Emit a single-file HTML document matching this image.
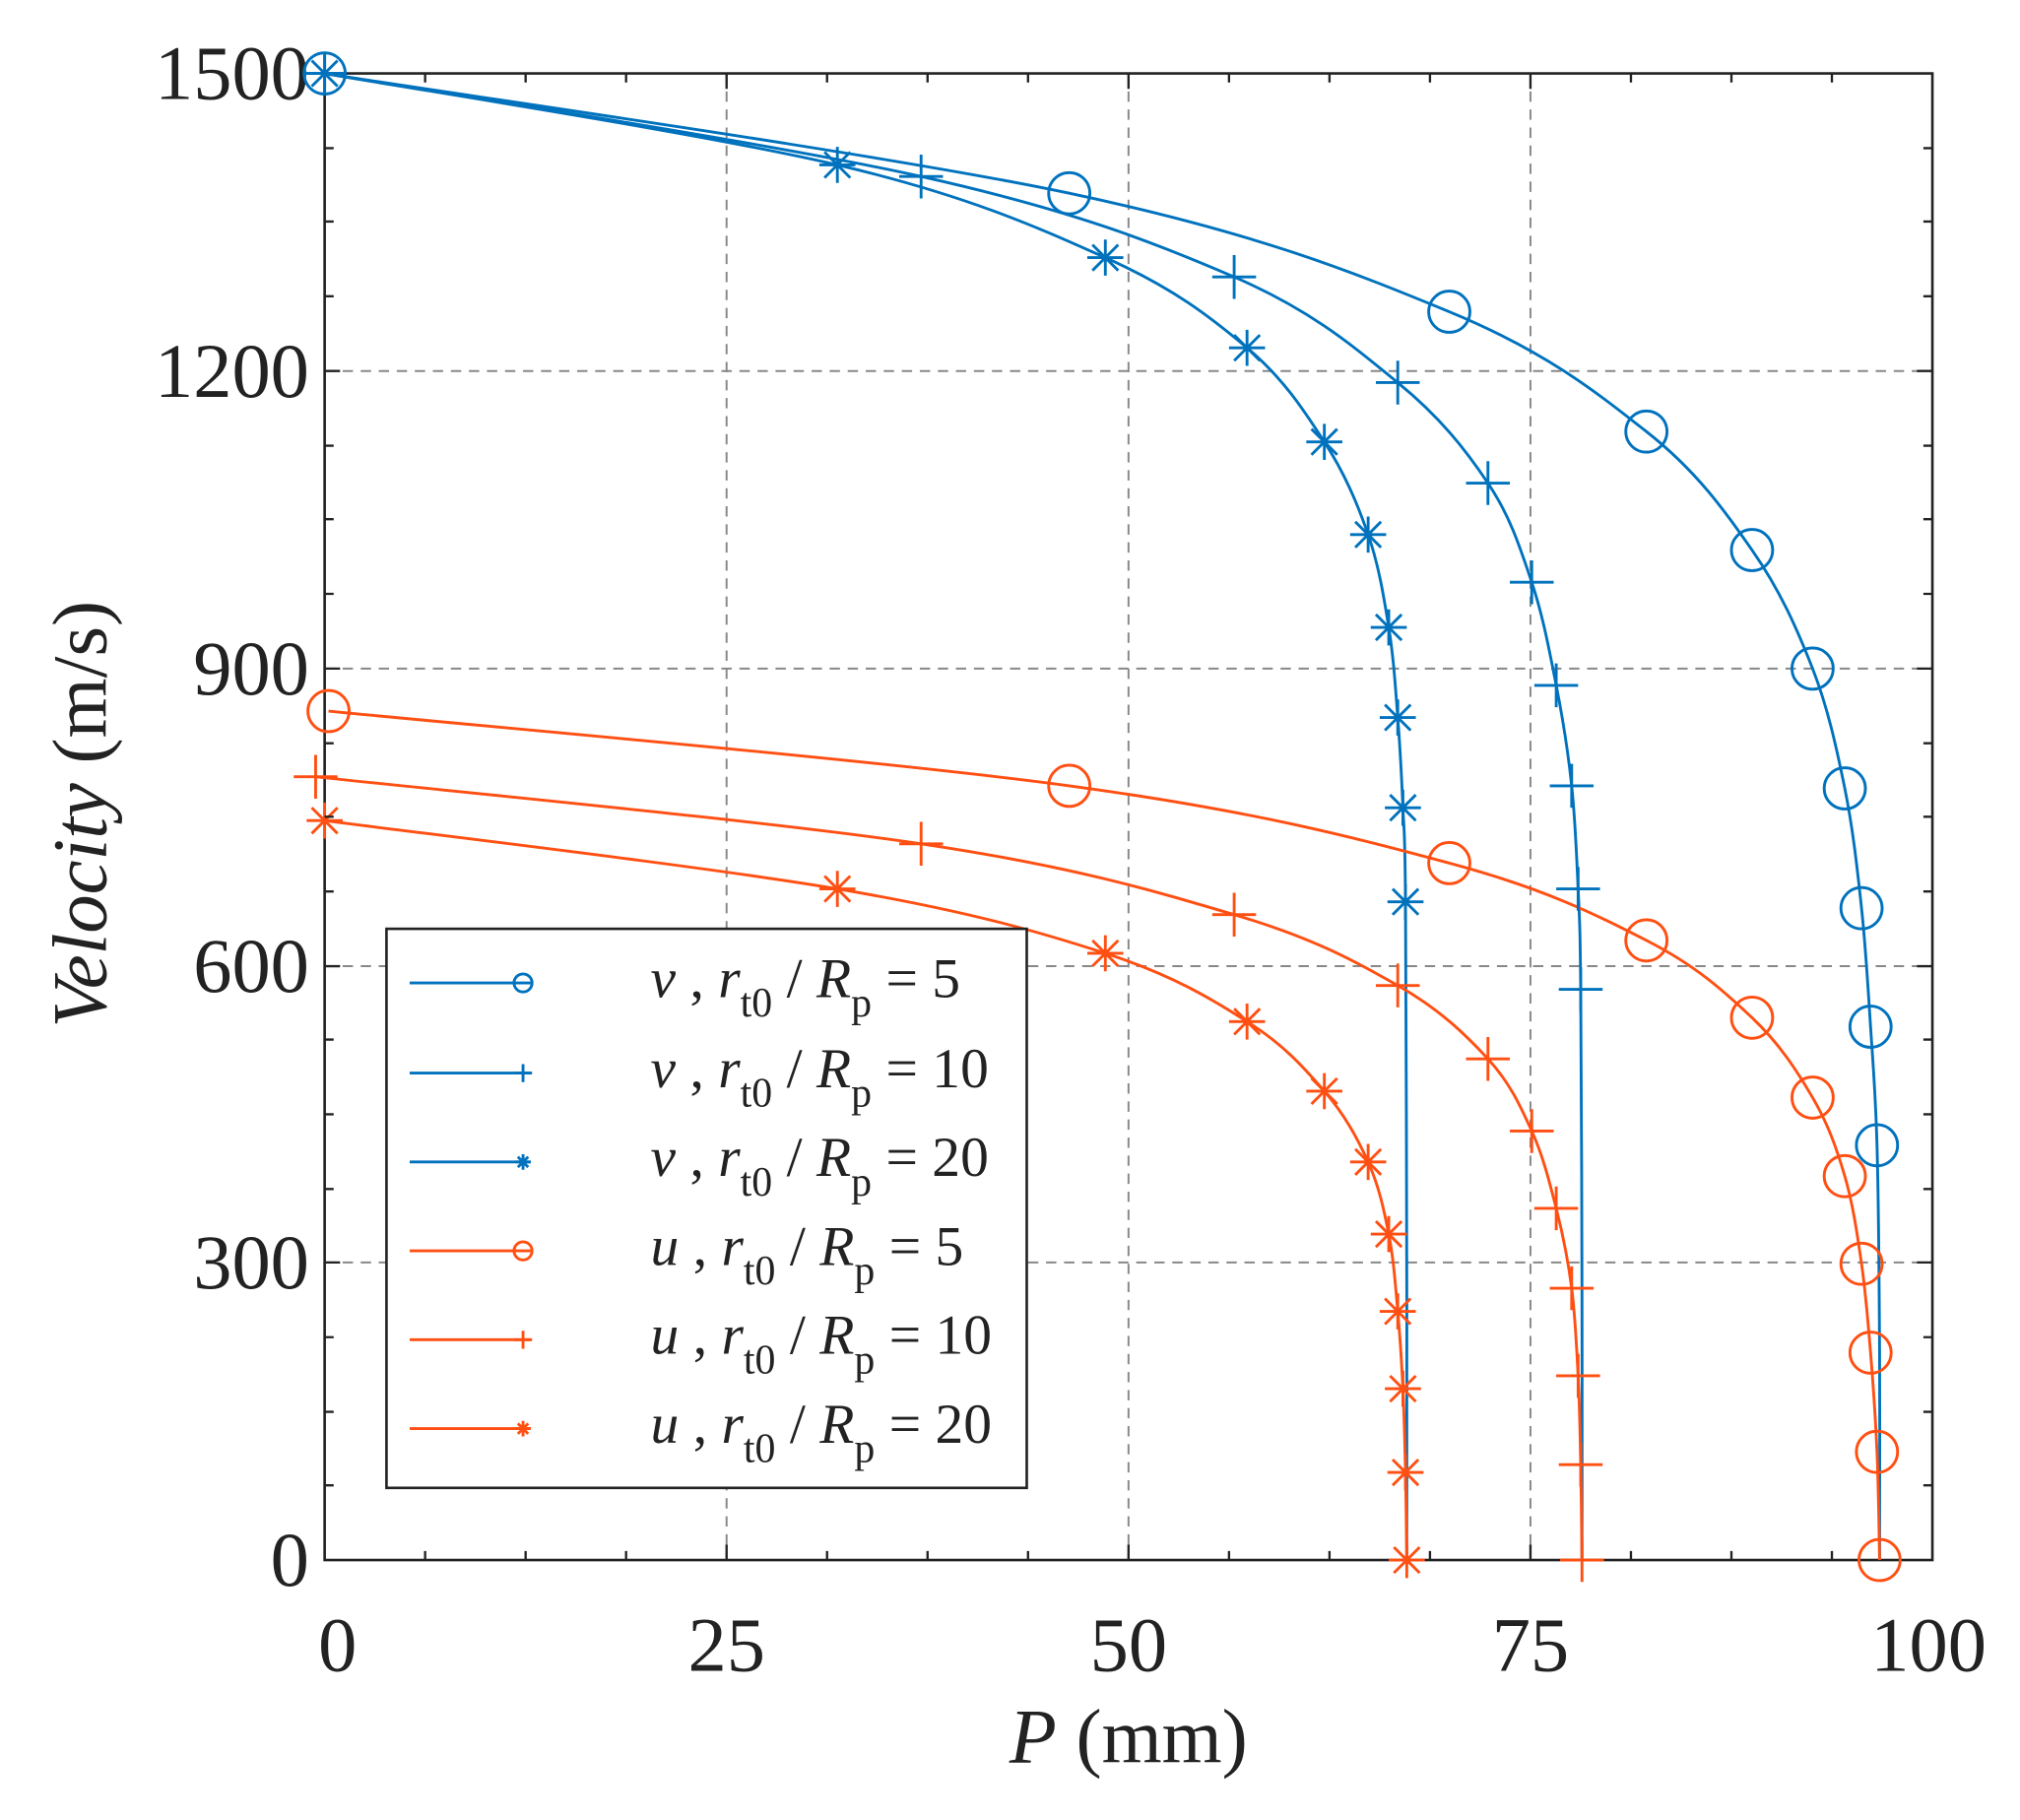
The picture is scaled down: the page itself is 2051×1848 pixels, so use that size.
<!DOCTYPE html>
<html><head><meta charset="utf-8"><style>
html,body{margin:0;padding:0;background:#fff}
svg{display:block}
text{font-family:"Liberation Serif",serif;fill:#222}
</style></head><body>
<svg id="sv" width="2051" height="1848" viewBox="0 0 1568 1412.8" preserveAspectRatio="none" xmlns="http://www.w3.org/2000/svg">
<defs>
<g id="circ"><circle r="16" fill="none" stroke-width="2.2"/></g>
<g id="plus"><path d="M-17,0H17M0,-17V17" stroke-width="2.2"/></g>
<g id="star"><path d="M-14,0H14M0,-14V14M-10,-10L10,10M-10,10L10,-10" stroke-width="2.2"/></g>
</defs>
<g stroke="#888" stroke-width="1.5" stroke-dasharray="8,6">
<line x1="564" y1="57" x2="564" y2="1211"/><line x1="876" y1="57" x2="876" y2="1211"/><line x1="1188" y1="57" x2="1188" y2="1211"/>
<line x1="252" y1="288" x2="1500" y2="288"/><line x1="252" y1="519" x2="1500" y2="519"/><line x1="252" y1="750" x2="1500" y2="750"/><line x1="252" y1="980" x2="1500" y2="980"/>
</g>
<rect x="252" y="57" width="1248" height="1154" fill="none" stroke="#222" stroke-width="2"/>
<g font-size="60" text-anchor="middle">
<text x="262" y="1297">0</text><text x="564" y="1297">25</text><text x="876" y="1297">50</text><text x="1188" y="1297">75</text><text x="1497" y="1297">100</text>
</g>
<g font-size="60" text-anchor="end">
<text x="240" y="77">1500</text><text x="240" y="308">1200</text><text x="240" y="539">900</text><text x="240" y="770">600</text><text x="240" y="1000">300</text><text x="240" y="1231">0</text>
</g>
<text x="876" y="1368" font-size="60" text-anchor="middle"><tspan font-style="italic">P</tspan> (mm)</text>
<text transform="translate(82,632) rotate(-90)" font-size="60" text-anchor="middle"><tspan font-style="italic">Velocity</tspan> (m/s)</text>
<g fill="none" stroke-width="2.2" stroke-linejoin="round">
<polyline class="s" stroke="#0072BD" points="252,57 830,150 1125,242 1278,335 1360,427 1407,519 1432,612 1445,705 1452,797 1457,889 1459,1050 1459,1211"/>
<polyline class="s" stroke="#0072BD" points="252,57 715,137 958,215 1085,297 1155,375 1189,452 1208,532 1220,610 1225,690 1227,768 1228,1000 1228,1211"/>
<polyline class="s" stroke="#0072BD" points="252,57 650,128 858,200 968,270 1028,343 1062,415 1078,487 1085,557 1089,627 1091,700 1092,1000 1092,1211"/>
<polyline class="s" stroke="#FF4F12" points="255,552 830,610 1125,670 1278,730 1360,790 1407,852 1432,913 1445,981 1452,1050 1457,1127 1459,1211"/>
<polyline class="s" stroke="#FF4F12" points="245,603 715,655 958,710 1085,765 1155,822 1189,878 1208,938 1220,1000 1225,1068 1227,1137 1228,1211"/>
<polyline class="s" stroke="#FF4F12" points="252,637 650,690 858,740 968,793 1028,847 1062,902 1078,958 1085,1018 1089,1078 1091,1143 1092,1211"/>
</g>
<g stroke="#0072BD">
<use href="#circ" x="252" y="57"/><use href="#circ" x="830" y="150"/><use href="#circ" x="1125" y="242"/><use href="#circ" x="1278" y="335"/><use href="#circ" x="1360" y="427"/><use href="#circ" x="1407" y="519"/><use href="#circ" x="1432" y="612"/><use href="#circ" x="1445" y="705"/><use href="#circ" x="1452" y="797"/><use href="#circ" x="1457" y="889"/>
<use href="#plus" x="252" y="57"/><use href="#plus" x="715" y="137"/><use href="#plus" x="958" y="215"/><use href="#plus" x="1085" y="297"/><use href="#plus" x="1155" y="375"/><use href="#plus" x="1189" y="452"/><use href="#plus" x="1208" y="532"/><use href="#plus" x="1220" y="610"/><use href="#plus" x="1225" y="690"/><use href="#plus" x="1227" y="768"/>
<use href="#star" x="252" y="57"/><use href="#star" x="650" y="128"/><use href="#star" x="858" y="200"/><use href="#star" x="968" y="270"/><use href="#star" x="1028" y="343"/><use href="#star" x="1062" y="415"/><use href="#star" x="1078" y="487"/><use href="#star" x="1085" y="557"/><use href="#star" x="1089" y="627"/><use href="#star" x="1091" y="700"/>
</g>
<g stroke="#FF4F12">
<use href="#circ" x="255" y="552"/><use href="#circ" x="830" y="610"/><use href="#circ" x="1125" y="670"/><use href="#circ" x="1278" y="730"/><use href="#circ" x="1360" y="790"/><use href="#circ" x="1407" y="852"/><use href="#circ" x="1432" y="913"/><use href="#circ" x="1445" y="981"/><use href="#circ" x="1452" y="1050"/><use href="#circ" x="1457" y="1127"/><use href="#circ" x="1459" y="1211"/>
<use href="#plus" x="245" y="603"/><use href="#plus" x="715" y="655"/><use href="#plus" x="958" y="710"/><use href="#plus" x="1085" y="765"/><use href="#plus" x="1155" y="822"/><use href="#plus" x="1189" y="878"/><use href="#plus" x="1208" y="938"/><use href="#plus" x="1220" y="1000"/><use href="#plus" x="1225" y="1068"/><use href="#plus" x="1227" y="1137"/><use href="#plus" x="1228" y="1211"/>
<use href="#star" x="252" y="637"/><use href="#star" x="650" y="690"/><use href="#star" x="858" y="740"/><use href="#star" x="968" y="793"/><use href="#star" x="1028" y="847"/><use href="#star" x="1062" y="902"/><use href="#star" x="1078" y="958"/><use href="#star" x="1085" y="1018"/><use href="#star" x="1089" y="1078"/><use href="#star" x="1091" y="1143"/><use href="#star" x="1092" y="1211"/>
</g>
<rect x="300" y="721" width="497" height="434" fill="#fff" stroke="#222" stroke-width="2"/>
<g stroke-width="2.2">
<line x1="318" y1="763" x2="412" y2="763" stroke="#0072BD"/><circle cx="406" cy="763" r="7" fill="none" stroke="#0072BD"/>
<line x1="318" y1="833" x2="412" y2="833" stroke="#0072BD"/><path d="M399,833h14M406,826v14" stroke="#0072BD"/>
<line x1="318" y1="902" x2="412" y2="902" stroke="#0072BD"/><path d="M400,902h12M406,896v12M402,898l8,8M402,906l8,-8" stroke="#0072BD"/>
<line x1="318" y1="971" x2="412" y2="971" stroke="#FF4F12"/><circle cx="406" cy="971" r="7" fill="none" stroke="#FF4F12"/>
<line x1="318" y1="1040" x2="412" y2="1040" stroke="#FF4F12"/><path d="M399,1040h14M406,1033v14" stroke="#FF4F12"/>
<line x1="318" y1="1109" x2="412" y2="1109" stroke="#FF4F12"/><path d="M400,1109h12M406,1103v12M402,1105l8,8M402,1113l8,-8" stroke="#FF4F12"/>
</g>
<g font-size="44">
<text x="505" y="774"><tspan font-style="italic">v</tspan> , <tspan font-style="italic">r</tspan><tspan font-size="32" dy="15">t0</tspan><tspan dy="-15"> / </tspan><tspan font-style="italic">R</tspan><tspan font-size="32" dy="15">p</tspan><tspan dy="-15"> = 5</tspan></text>
<text x="505" y="844"><tspan font-style="italic">v</tspan> , <tspan font-style="italic">r</tspan><tspan font-size="32" dy="15">t0</tspan><tspan dy="-15"> / </tspan><tspan font-style="italic">R</tspan><tspan font-size="32" dy="15">p</tspan><tspan dy="-15"> = 10</tspan></text>
<text x="505" y="913"><tspan font-style="italic">v</tspan> , <tspan font-style="italic">r</tspan><tspan font-size="32" dy="15">t0</tspan><tspan dy="-15"> / </tspan><tspan font-style="italic">R</tspan><tspan font-size="32" dy="15">p</tspan><tspan dy="-15"> = 20</tspan></text>
<text x="505" y="982"><tspan font-style="italic">u</tspan> , <tspan font-style="italic">r</tspan><tspan font-size="32" dy="15">t0</tspan><tspan dy="-15"> / </tspan><tspan font-style="italic">R</tspan><tspan font-size="32" dy="15">p</tspan><tspan dy="-15"> = 5</tspan></text>
<text x="505" y="1051"><tspan font-style="italic">u</tspan> , <tspan font-style="italic">r</tspan><tspan font-size="32" dy="15">t0</tspan><tspan dy="-15"> / </tspan><tspan font-style="italic">R</tspan><tspan font-size="32" dy="15">p</tspan><tspan dy="-15"> = 10</tspan></text>
<text x="505" y="1120"><tspan font-style="italic">u</tspan> , <tspan font-style="italic">r</tspan><tspan font-size="32" dy="15">t0</tspan><tspan dy="-15"> / </tspan><tspan font-style="italic">R</tspan><tspan font-size="32" dy="15">p</tspan><tspan dy="-15"> = 20</tspan></text>
</g>
<g stroke="#222" stroke-width="1.8">
<path d="M330,1211v-7M408,1211v-7M486,1211v-7M564,1211v-12M642,1211v-7M720,1211v-7M798,1211v-7M876,1211v-12M954,1211v-7M1032,1211v-7M1110,1211v-7M1188,1211v-12M1266,1211v-7M1344,1211v-7M1422,1211v-7"/>
<path d="M330,57v7M408,57v7M486,57v7M564,57v12M642,57v7M720,57v7M798,57v7M876,57v12M954,57v7M1032,57v7M1110,57v7M1188,57v12M1266,57v7M1344,57v7M1422,57v7"/>
<path d="M252,115h7M252,172h7M252,230h7M252,288h12M252,346h7M252,403h7M252,461h7M252,519h12M252,577h7M252,634h7M252,692h7M252,750h12M252,807h7M252,865h7M252,923h7M252,980h12M252,1038h7M252,1096h7M252,1153h7"/>
<path d="M1500,115h-7M1500,172h-7M1500,230h-7M1500,288h-12M1500,346h-7M1500,403h-7M1500,461h-7M1500,519h-12M1500,577h-7M1500,634h-7M1500,692h-7M1500,750h-12M1500,807h-7M1500,865h-7M1500,923h-7M1500,980h-12M1500,1038h-7M1500,1096h-7M1500,1153h-7"/>
</g>
</svg>
<script>
document.querySelectorAll('polyline.s').forEach(function(pl){
  var p=pl.getAttribute('points').trim().split(/\s+/).map(function(s){return s.split(',').map(Number);});
  var d='M'+p[0][0]+','+p[0][1];
  for(var i=0;i<p.length-1;i++){
    var p0=p[i-1]||p[i],p1=p[i],p2=p[i+1],p3=p[i+2]||p2;
    var c1x=p1[0]+(p2[0]-p0[0])/6,c1y=p1[1]+(p2[1]-p0[1])/6;
    var c2x=p2[0]-(p3[0]-p1[0])/6,c2y=p2[1]-(p3[1]-p1[1])/6;
    d+=' C'+c1x.toFixed(1)+','+c1y.toFixed(1)+' '+c2x.toFixed(1)+','+c2y.toFixed(1)+' '+p2[0]+','+p2[1];
  }
  var path=document.createElementNS('http://www.w3.org/2000/svg','path');
  path.setAttribute('d',d);path.setAttribute('stroke',pl.getAttribute('stroke'));
  pl.parentNode.replaceChild(path,pl);
});
</script>
</body></html>
